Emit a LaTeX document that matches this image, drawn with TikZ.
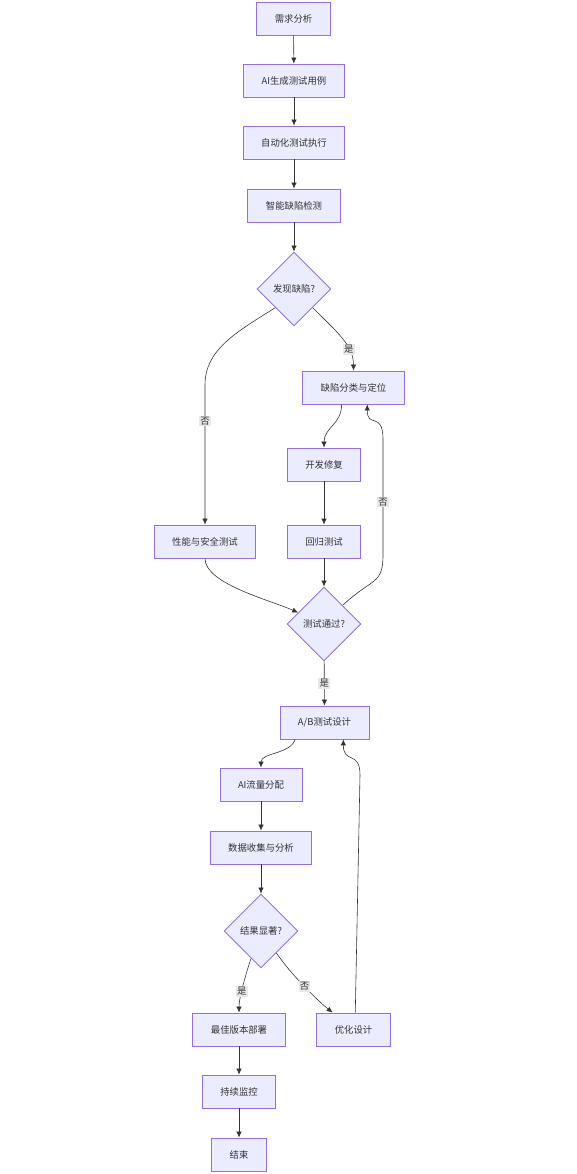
\documentclass[tikz,border=0pt]{standalone}
\usepackage{fontspec}
\newfontfamily\cjkfont{Noto Sans CJK SC}
\usetikzlibrary{shapes.geometric, arrows.meta}
\definecolor{mmdfill}{HTML}{ECECFF}
\definecolor{mmdborder}{HTML}{9370DB}
\definecolor{mmdtext}{HTML}{333333}
\definecolor{mmdline}{HTML}{333333}
\definecolor{lblfill}{HTML}{E8E8E8}

\begin{document}
\begin{tikzpicture}[x=0.03cm, y=-0.03cm,
    box/.style={draw=mmdborder, fill=mmdfill, line width=0.8pt, minimum height=0.99cm,
        inner xsep=0.54cm, text=mmdtext, font=\cjkfont\fontsize{8}{10}\selectfont},
    dec/.style={diamond, aspect=1, draw=mmdborder, fill=mmdfill, line width=0.8pt,
        minimum width=2.22cm, minimum height=2.22cm, inner sep=0pt, text=mmdtext,
        font=\cjkfont\fontsize{8}{10}\selectfont},
    arr/.style={-{Latex[length=5pt,width=4.5pt]}, draw=mmdline, line width=0.5pt},
    lbl/.style={fill=lblfill, inner sep=1pt, text=mmdtext, font=\cjkfont\fontsize{8}{10}\selectfont}]
            \path[fill=white] (0,0) rectangle (576,1174);

            \node[box] (1) at (293.5,18.5) {需求分析};
            \node[box] (2) at (294,80.5) {AI生成测试用例};
            \node[box] (3) at (294,142.5) {自动化测试执行};
            \node[box] (4) at (294,205.5) {智能缺陷检测};
            \node[dec] (5) at (294,289) {发现缺陷?};
            \node[box] (6) at (353.5,387.5) {缺陷分类与定位};
            \node[box] (7) at (324,464.5) {开发修复};
            \node[box] (8) at (205,541.5) {性能与安全测试};
            \node[box] (9) at (324,541.5) {回归测试};
            \node[dec] (10) at (324,624) {测试通过?};
            \node[box] (11) at (324.5,722.5) {A/B测试设计};
            \node[box] (12) at (261,784.5) {AI流量分配};
            \node[box] (13) at (261,847.5) {数据收集与分析};
            \node[dec] (14) at (261,931) {结果显著?};
            \node[box] (15) at (239,1029.5) {最佳版本部署};
            \node[box] (16) at (353.5,1029.5) {优化设计};
            \node[box] (17) at (239,1091.5) {持续监控};
            \node[box] (18) at (239,1154.5) {结束};

            \coordinate (c1) at (205,385);
            \coordinate (c2) at (383,555);
            \coordinate (c3) at (383,440);
            \coordinate (c4) at (360,775);

            \draw[arr] (1) -- (2);
            \draw[arr] (2) -- (3);
            \draw[arr] (3) -- (4);
            \draw[arr] (4) -- (5);
            \draw[arr] (5.south west) .. controls +(-40,25) and +(0,-35) .. (c1)
                -- node[lbl, pos=0.26] {否} (8.north);
            \draw[arr] (5.south east) .. controls +(25,25) and +(0,-25) .. node[lbl, pos=0.68] {是} (6.north);
            \draw[arr] (6.235) .. controls +(0,20) and +(0,-20) .. (7.north);
            \draw[arr] (7) -- (9);
            \draw[arr] (8.south) .. controls +(0,25) and +(-30,-13) .. (10.156);
            \draw[arr] (9) -- (10);
            \draw[arr] (10.north east) .. controls +(30,-28) and +(0,30) .. (c2)
                -- node[lbl, pos=0.46] {否} (c3) .. controls +(0,-30) and +(0,25) .. (6.309);
            \draw[arr] (10) -- node[lbl] {是} (11);
            \draw[arr] (11.210) .. controls +(-5,15) and +(0,-15) .. (12.north);
            \draw[arr] (12) -- (13);
            \draw[arr] (13) -- (14);
            \draw[arr] (14.250) .. controls +(-5,15) and +(0,-15) .. node[lbl, pos=0.6] {是} (15.north);
            \draw[arr] (14.305) .. controls +(15,22) and +(-15,-12) .. node[lbl, pos=0.5] {否} (16.141);
            \draw[arr] (16.84) -- (c4) .. controls +(0,-25) and +(0,25) .. (11.318);
            \draw[arr] (15) -- (17);
            \draw[arr] (17) -- (18);
        \end{tikzpicture}
\end{document}
